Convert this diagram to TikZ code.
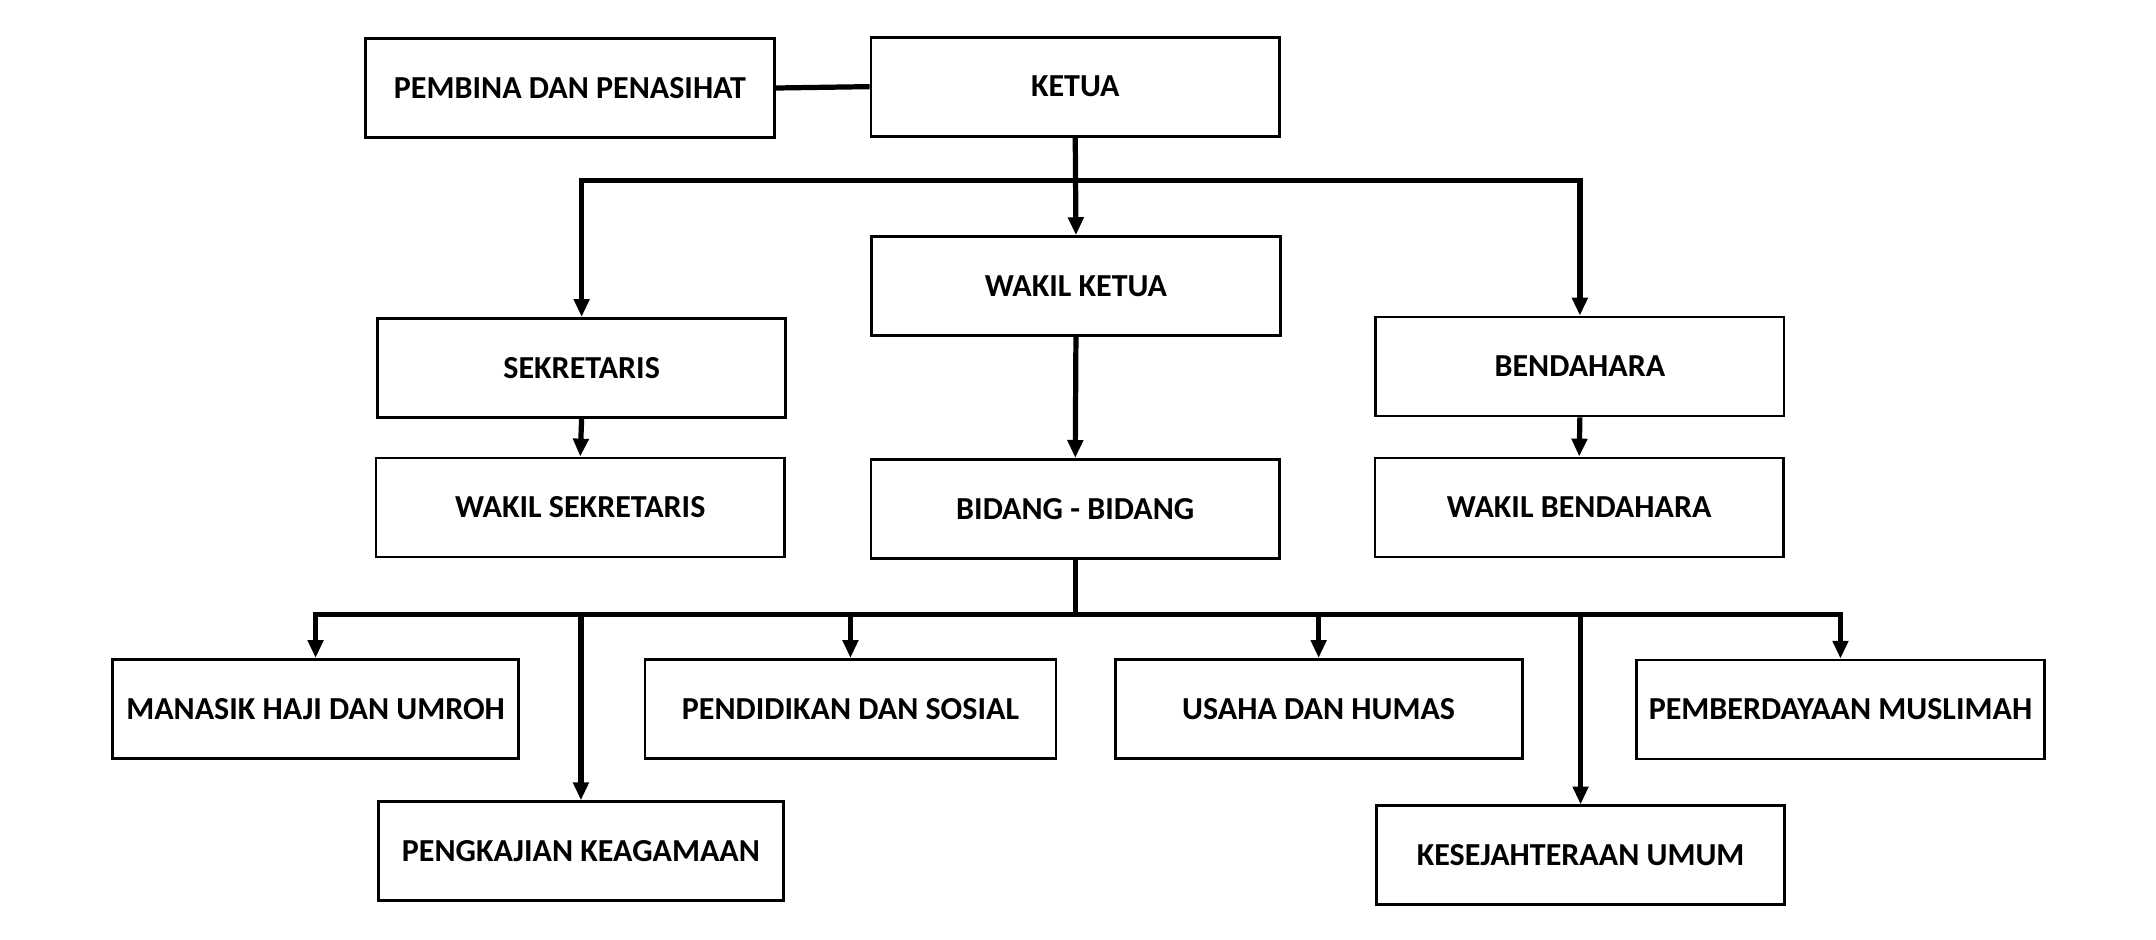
\documentclass[tikz,border=0pt]{standalone}
\usepackage{fontspec}
\setmainfont{Carlito}
\usetikzlibrary{arrows.meta}
\begin{document}
\begin{tikzpicture}[x=1pt,y=-1pt,
 box/.style={draw,line width=2pt,minimum width=297pt,minimum height=72pt,inner sep=0pt,font=\bfseries\fontsize{23.3}{27}\selectfont},
 conn/.style={line width=3.8pt},
 arr/.style={conn,-{Triangle[length=13pt,width=11pt]}}]
\useasboundingbox (0,0) rectangle (1568,683.6);
\node[box] (pem) at (414.5,64) {PEMBINA DAN PENASIHAT};
\node[box] (ket) at (782,63) {KETUA};
\node[box] (wk) at (782.5,208) {WAKIL KETUA};
\node[box] (sek) at (423,267.5) {SEKRETARIS};
\node[box] (ben) at (1149,266.5) {BENDAHARA};
\node[box] (wsek) at (422,369) {WAKIL SEKRETARIS};
\node[box] (bid) at (782,370) {BIDANG - BIDANG};
\node[box] (wben) at (1148.5,369) {WAKIL BENDAHARA};
\node[box,minimum width=295pt] (man) at (229.5,515.5) {MANASIK HAJI DAN UMROH};
\node[box,minimum width=299pt] (pen) at (618.5,515.5) {PENDIDIKAN DAN SOSIAL};
\node[box,minimum width=296pt] (usa) at (959,515.5) {USAHA DAN HUMAS};
\node[box] (pmb) at (1338.5,516) {PEMBERDAYAAN MUSLIMAH};
\node[box,minimum width=295pt] (pkj) at (422.5,619) {PENGKAJIAN KEAGAMAAN};
\node[box] (kes) at (1149.5,622) {KESEJAHTERAAN UMUM};
\coordinate (kb) at (782,131);
\coordinate (bb) at (782,447);
\draw[conn] (pem.east) -- (ket.west);
\draw[arr] (ket.south) -- (wk.north);
\draw[arr] (kb) -| (sek.north);
\draw[arr] (kb) -| (ben.north);
\draw[arr] (sek.south) -- (wsek.north);
\draw[arr] (ben.south) -- (wben.north);
\draw[arr] (wk.south) -- (bid.north);
\draw[conn] (bid.south) -- (bb);
\draw[arr] (bb) -| (man.north);
\draw[arr] (bb) -| (pmb.north);
\draw[arr] (bb -| pkj.north) -- (pkj.north);
\draw[arr] (bb -| pen.north) -- (pen.north);
\draw[arr] (bb -| usa.north) -- (usa.north);
\draw[arr] (bb -| kes.north) -- (kes.north);
\end{tikzpicture}
\end{document}
